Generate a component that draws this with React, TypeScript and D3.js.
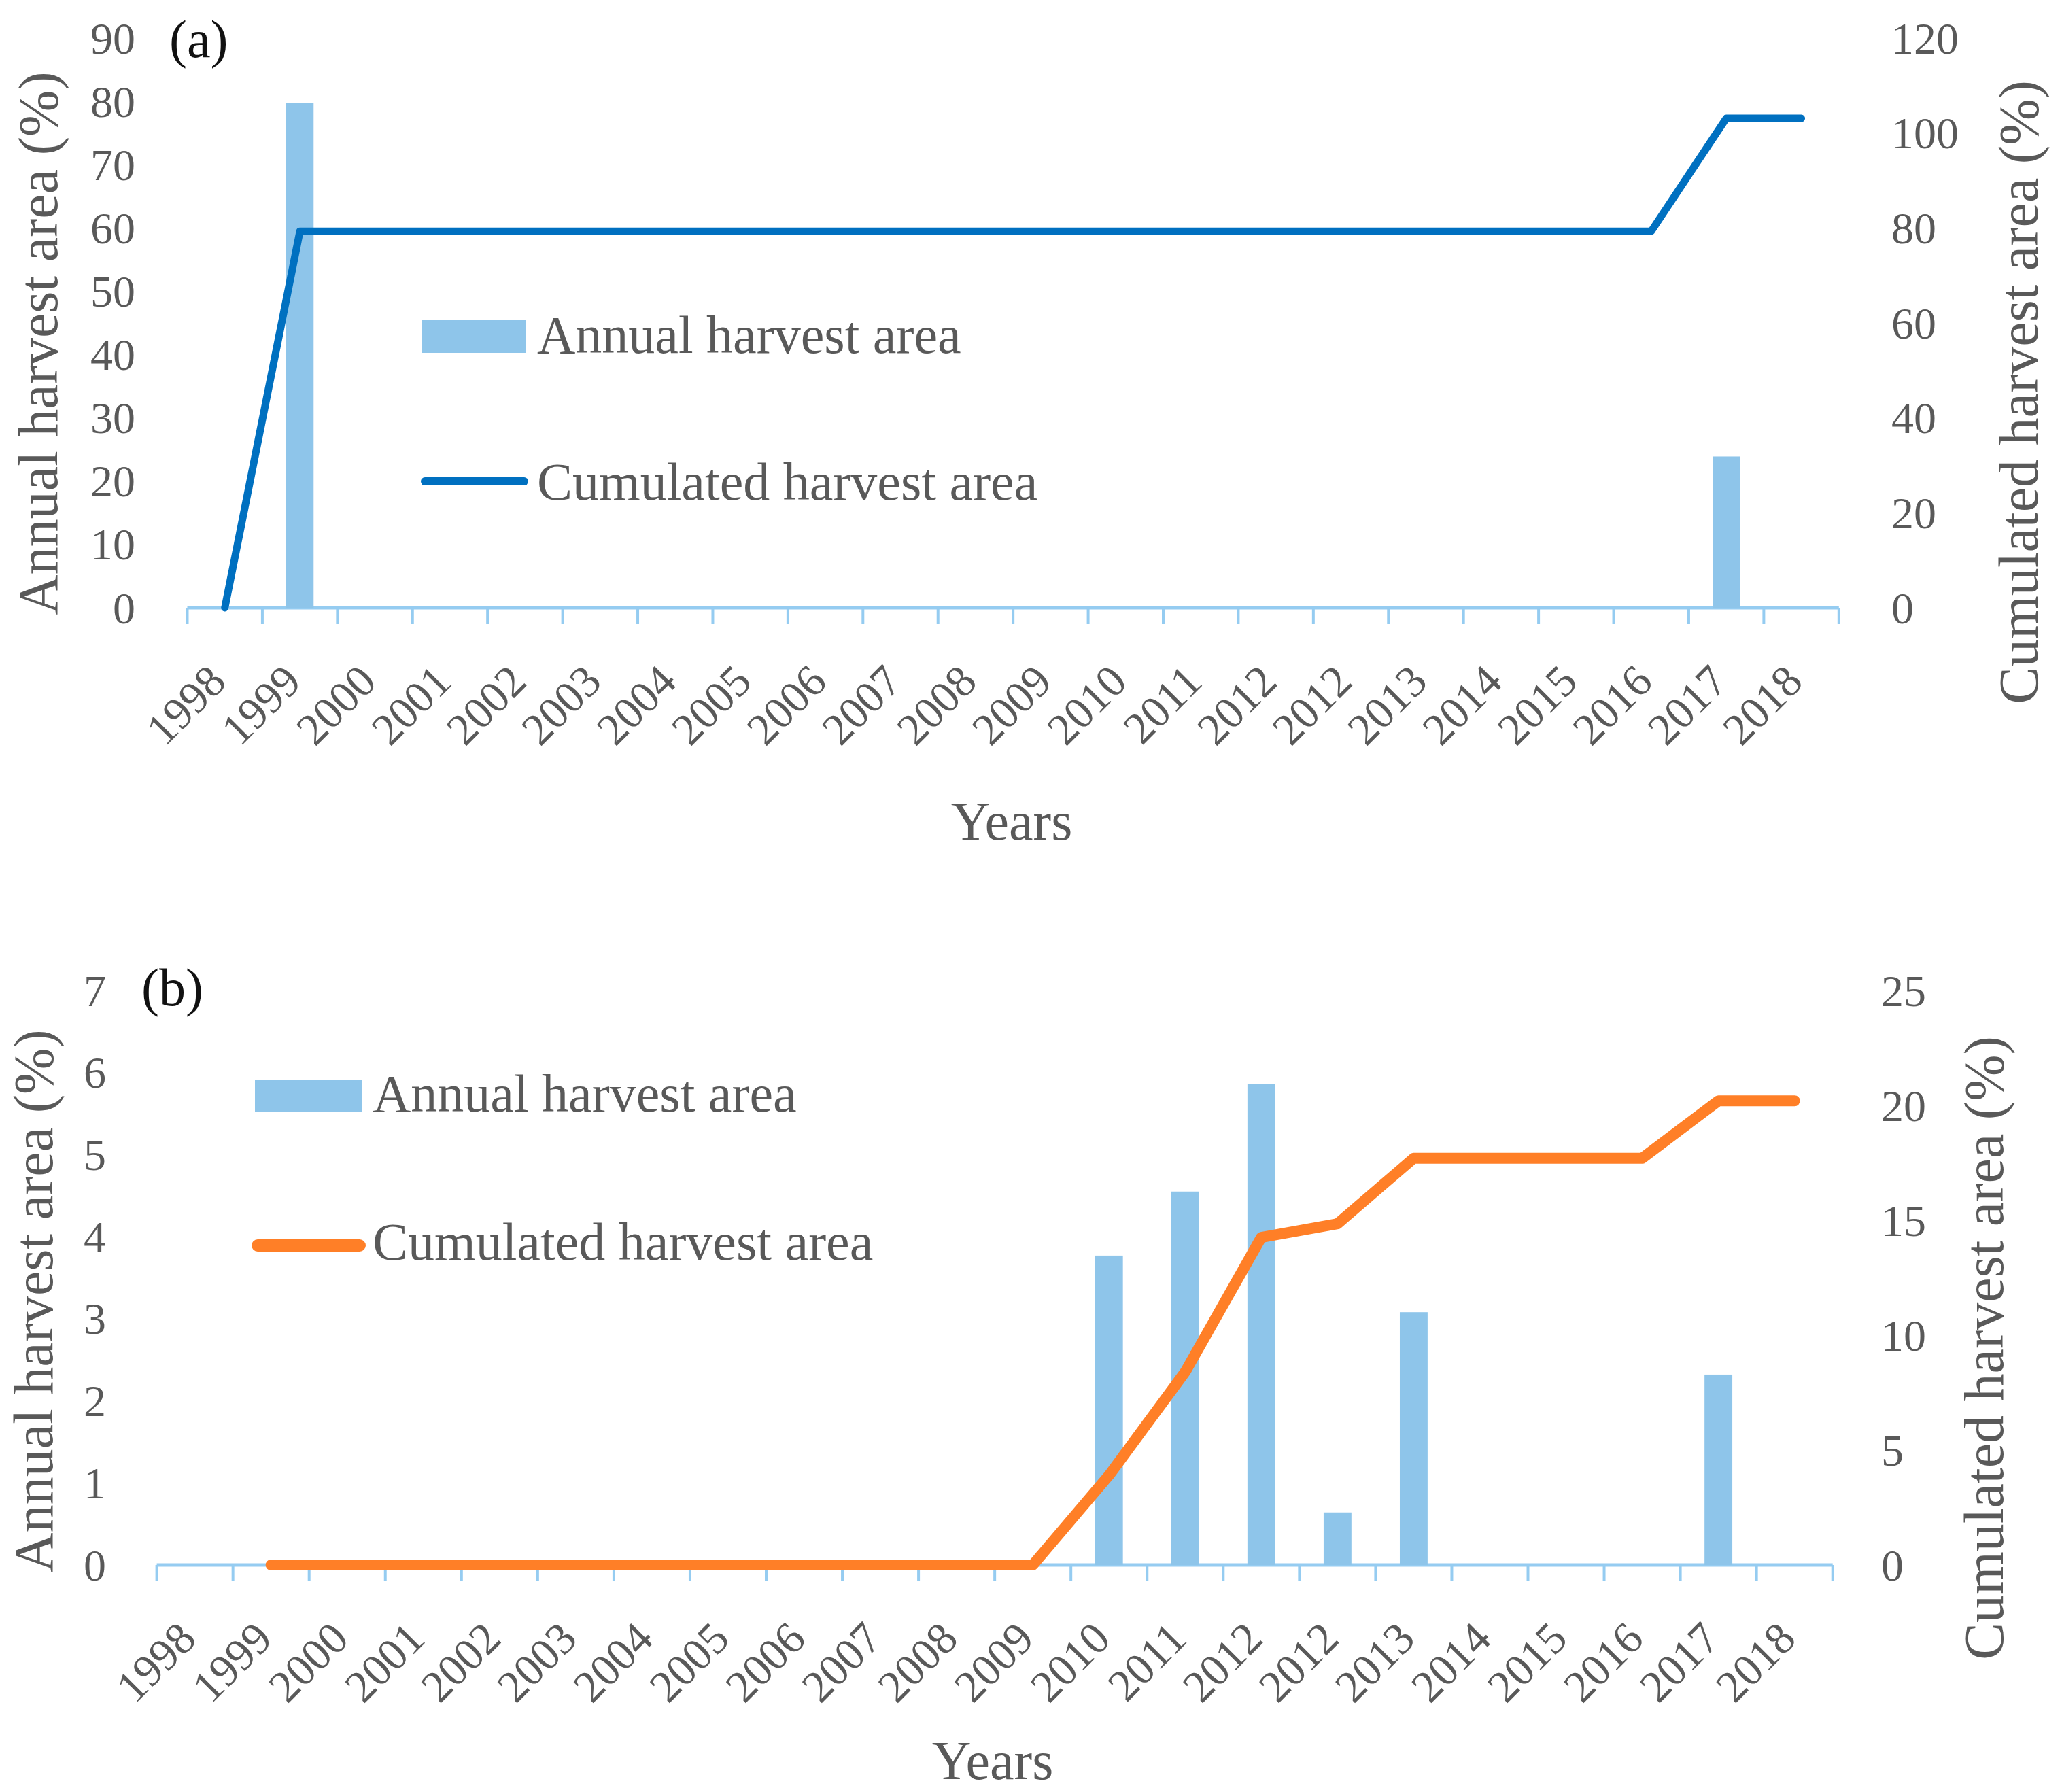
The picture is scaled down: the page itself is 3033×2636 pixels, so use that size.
import React from 'react';
import * as d3 from 'd3';

// ---------- data ----------
const categories = ['1998', '1999', '2000', '2001', '2002', '2003', '2004', '2005', '2006', '2007', '2008', '2009', '2010', '2011', '2012', '2012', '2013', '2014', '2015', '2016', '2017', '2018'];

// Panel (a)
const annualA: (number | null)[] = [null, 79.7, null, null, null, null, null, null, null, null, null, null, null, null, null, null, null, null, null, null, 23.9, null];
const cumulatedA: (number | null)[] = [0, 79.3, 79.3, 79.3, 79.3, 79.3, 79.3, 79.3, 79.3, 79.3, 79.3, 79.3, 79.3, 79.3, 79.3, 79.3, 79.3, 79.3, 79.3, 79.3, 103.1, 103.1];

// Panel (b)
const annualB: (number | null)[] = [null, null, null, null, null, null, null, null, null, null, null, null, 3.77, 4.55, 5.86, 0.64, 3.08, null, null, null, 2.32, null];
const cumulatedB: (number | null)[] = [null, 0, 0, 0, 0, 0, 0, 0, 0, 0, 0, 0, 3.9, 8.4, 14.26, 14.85, 17.7, 17.7, 17.7, 17.7, 20.2, 20.2];

const leftTicksA = [0, 10, 20, 30, 40, 50, 60, 70, 80, 90];
const rightTicksA = [0, 20, 40, 60, 80, 100, 120];
const leftTicksB = [0, 1, 2, 3, 4, 5, 6, 7];
const rightTicksB = [0, 5, 10, 15, 20, 25];

const legendLabels = ['Annual harvest area', 'Cumulated harvest area'];
const leftTitle = 'Annual harvest area (%)';
const rightTitle = 'Cumulated harvest area (%)';
const xTitle = 'Years';

// ---------- style ----------
const W = 3033;
const H = 2636;
const TEXT = '#595959';
const FONT = '"Liberation Serif", "Times New Roman", serif';
const BAR = '#8EC5EA';
const AXIS = '#95CCF1';

interface PanelCfg {
  tag: string;
  tagX: number; tagY: number;
  x0: number; x1: number; yTop: number; yBottom: number;
  leftTicks: number[]; rightTicks: number[];
  annual: (number | null)[]; cumulated: (number | null)[];
  lineColor: string; lineWidth: number;
  leftLabelX: number; rightLabelX: number;
  leftTitleX: number; leftTitleY: number;
  rightTitleX: number; rightTitleY: number;
  yearsX: number; yearsY: number;
  legSwatch: { x: number; y: number; w: number; h: number };
  legText1: { x: number; y: number };
  legLine: { x1: number; x2: number; y: number; w: number };
  legText2: { x: number; y: number };
}

const panels: PanelCfg[] = [
  {
    tag: '(a)', tagX: 249, tagY: 84,
    x0: 275.5, x1: 2704.8, yTop: 56, yBottom: 894,
    leftTicks: leftTicksA, rightTicks: rightTicksA,
    annual: annualA, cumulated: cumulatedA,
    lineColor: '#0070C0', lineWidth: 11,
    leftLabelX: 199, rightLabelX: 2782,
    leftTitleX: 84, leftTitleY: 505,
    rightTitleX: 2997, rightTitleY: 577,
    yearsX: 1488, yearsY: 1235,
    legSwatch: { x: 620, y: 470, w: 153, h: 49 },
    legText1: { x: 790, y: 519 },
    legLine: { x1: 625, x2: 771, y: 708, w: 12 },
    legText2: { x: 790, y: 735 },
  },
  {
    tag: '(b)', tagX: 208, tagY: 1479,
    x0: 230.6, x1: 2695.7, yTop: 1457, yBottom: 2302,
    leftTicks: leftTicksB, rightTicks: rightTicksB,
    annual: annualB, cumulated: cumulatedB,
    lineColor: '#FF7F27', lineWidth: 16,
    leftLabelX: 156, rightLabelX: 2767,
    leftTitleX: 77, leftTitleY: 1914,
    rightTitleX: 2946, rightTitleY: 1983,
    yearsX: 1460, yearsY: 2617,
    legSwatch: { x: 375, y: 1588, w: 158, h: 48 },
    legText1: { x: 548, y: 1635 },
    legLine: { x1: 379, x2: 529, y: 1832, w: 18 },
    legText2: { x: 548, y: 1853 },
  },
];

function Panel({ cfg }: { cfg: PanelCfg }) {
  const idx = d3.range(categories.length);
  const x = d3.scaleBand<number>().domain(idx).range([cfg.x0, cfg.x1]).paddingInner(0).paddingOuter(0);
  const bw = x.bandwidth();
  const cx = (i: number) => (x(i) as number) + bw / 2;
  const yL = d3.scaleLinear().domain([0, d3.max(cfg.leftTicks) as number]).range([cfg.yBottom, cfg.yTop]);
  const yR = d3.scaleLinear().domain([0, d3.max(cfg.rightTicks) as number]).range([cfg.yBottom, cfg.yTop]);
  const barW = bw * 0.365;

  const lineGen = d3
    .line<number>()
    .defined((i) => cfg.cumulated[i] != null)
    .x((i) => cx(i))
    .y((i) => yR(cfg.cumulated[i] as number));

  const tickXs = [...idx.map((i) => x(i) as number), cfg.x1];

  return (
    <g>
      {/* panel tag */}
      <text x={cfg.tagX} y={cfg.tagY} fontSize={78} fill="#111" fontFamily={FONT}>{cfg.tag}</text>

      {/* x axis */}
      <line x1={cfg.x0} x2={cfg.x1} y1={cfg.yBottom} y2={cfg.yBottom} stroke={AXIS} strokeWidth={5} />
      {tickXs.map((tx, k) => (
        <line key={'t' + k} x1={tx} x2={tx} y1={cfg.yBottom} y2={cfg.yBottom + 24} stroke={AXIS} strokeWidth={4} />
      ))}

      {/* bars */}
      {idx.map((i) =>
        cfg.annual[i] == null ? null : (
          <rect
            key={'b' + i}
            x={cx(i) - barW / 2}
            y={yL(cfg.annual[i] as number)}
            width={barW}
            height={cfg.yBottom - yL(cfg.annual[i] as number)}
            fill={BAR}
          />
        )
      )}

      {/* cumulated line */}
      <path
        d={lineGen(idx) || ''}
        fill="none"
        stroke={cfg.lineColor}
        strokeWidth={cfg.lineWidth}
        strokeLinejoin="round"
        strokeLinecap="round"
      />

      {/* category labels */}
      {idx.map((i) => {
        const ax = cx(i) + 5;
        const ay = cfg.yBottom + 112;
        return (
          <text
            key={'c' + i}
            x={ax}
            y={ay}
            transform={`rotate(-45 ${ax} ${ay})`}
            textAnchor="end"
            fontSize={66}
            fill={TEXT}
            fontFamily={FONT}
          >
            {categories[i]}
          </text>
        );
      })}

      {/* left y labels */}
      {cfg.leftTicks.map((t) => (
        <text key={'l' + t} x={cfg.leftLabelX} y={yL(t)} dominantBaseline="central" textAnchor="end" fontSize={66} fill={TEXT} fontFamily={FONT}>
          {t}
        </text>
      ))}
      {/* right y labels */}
      {cfg.rightTicks.map((t) => (
        <text key={'r' + t} x={cfg.rightLabelX} y={yR(t)} dominantBaseline="central" textAnchor="start" fontSize={66} fill={TEXT} fontFamily={FONT}>
          {t}
        </text>
      ))}

      {/* axis titles */}
      <text
        x={cfg.leftTitleX}
        y={cfg.leftTitleY}
        transform={`rotate(-90 ${cfg.leftTitleX} ${cfg.leftTitleY})`}
        textAnchor="middle"
        fontSize={82}
        fill={TEXT}
        fontFamily={FONT}
      >
        {leftTitle}
      </text>
      <text
        x={cfg.rightTitleX}
        y={cfg.rightTitleY}
        transform={`rotate(-90 ${cfg.rightTitleX} ${cfg.rightTitleY})`}
        textAnchor="middle"
        fontSize={82}
        fill={TEXT}
        fontFamily={FONT}
      >
        {rightTitle}
      </text>
      <text x={cfg.yearsX} y={cfg.yearsY} textAnchor="middle" fontSize={80} fill={TEXT} fontFamily={FONT}>
        {xTitle}
      </text>

      {/* legend */}
      <rect x={cfg.legSwatch.x} y={cfg.legSwatch.y} width={cfg.legSwatch.w} height={cfg.legSwatch.h} fill={BAR} />
      <text x={cfg.legText1.x} y={cfg.legText1.y} fontSize={78} fill={TEXT} fontFamily={FONT}>
        {legendLabels[0]}
      </text>
      <line
        x1={cfg.legLine.x1}
        x2={cfg.legLine.x2}
        y1={cfg.legLine.y}
        y2={cfg.legLine.y}
        stroke={cfg.lineColor}
        strokeWidth={cfg.legLine.w}
        strokeLinecap="round"
      />
      <text x={cfg.legText2.x} y={cfg.legText2.y} fontSize={78} fill={TEXT} fontFamily={FONT}>
        {legendLabels[1]}
      </text>
    </g>
  );
}

export default function App() {
  return (
    <svg
      width={W}
      height={H}
      viewBox={`0 0 ${W} ${H}`}
      style={{ position: 'absolute', left: 0, top: 0, background: '#fff', display: 'block' }}
    >
      <rect x={0} y={0} width={W} height={H} fill="#fff" />
      {panels.map((p) => (
        <Panel key={p.tag} cfg={p} />
      ))}
    </svg>
  );
}
